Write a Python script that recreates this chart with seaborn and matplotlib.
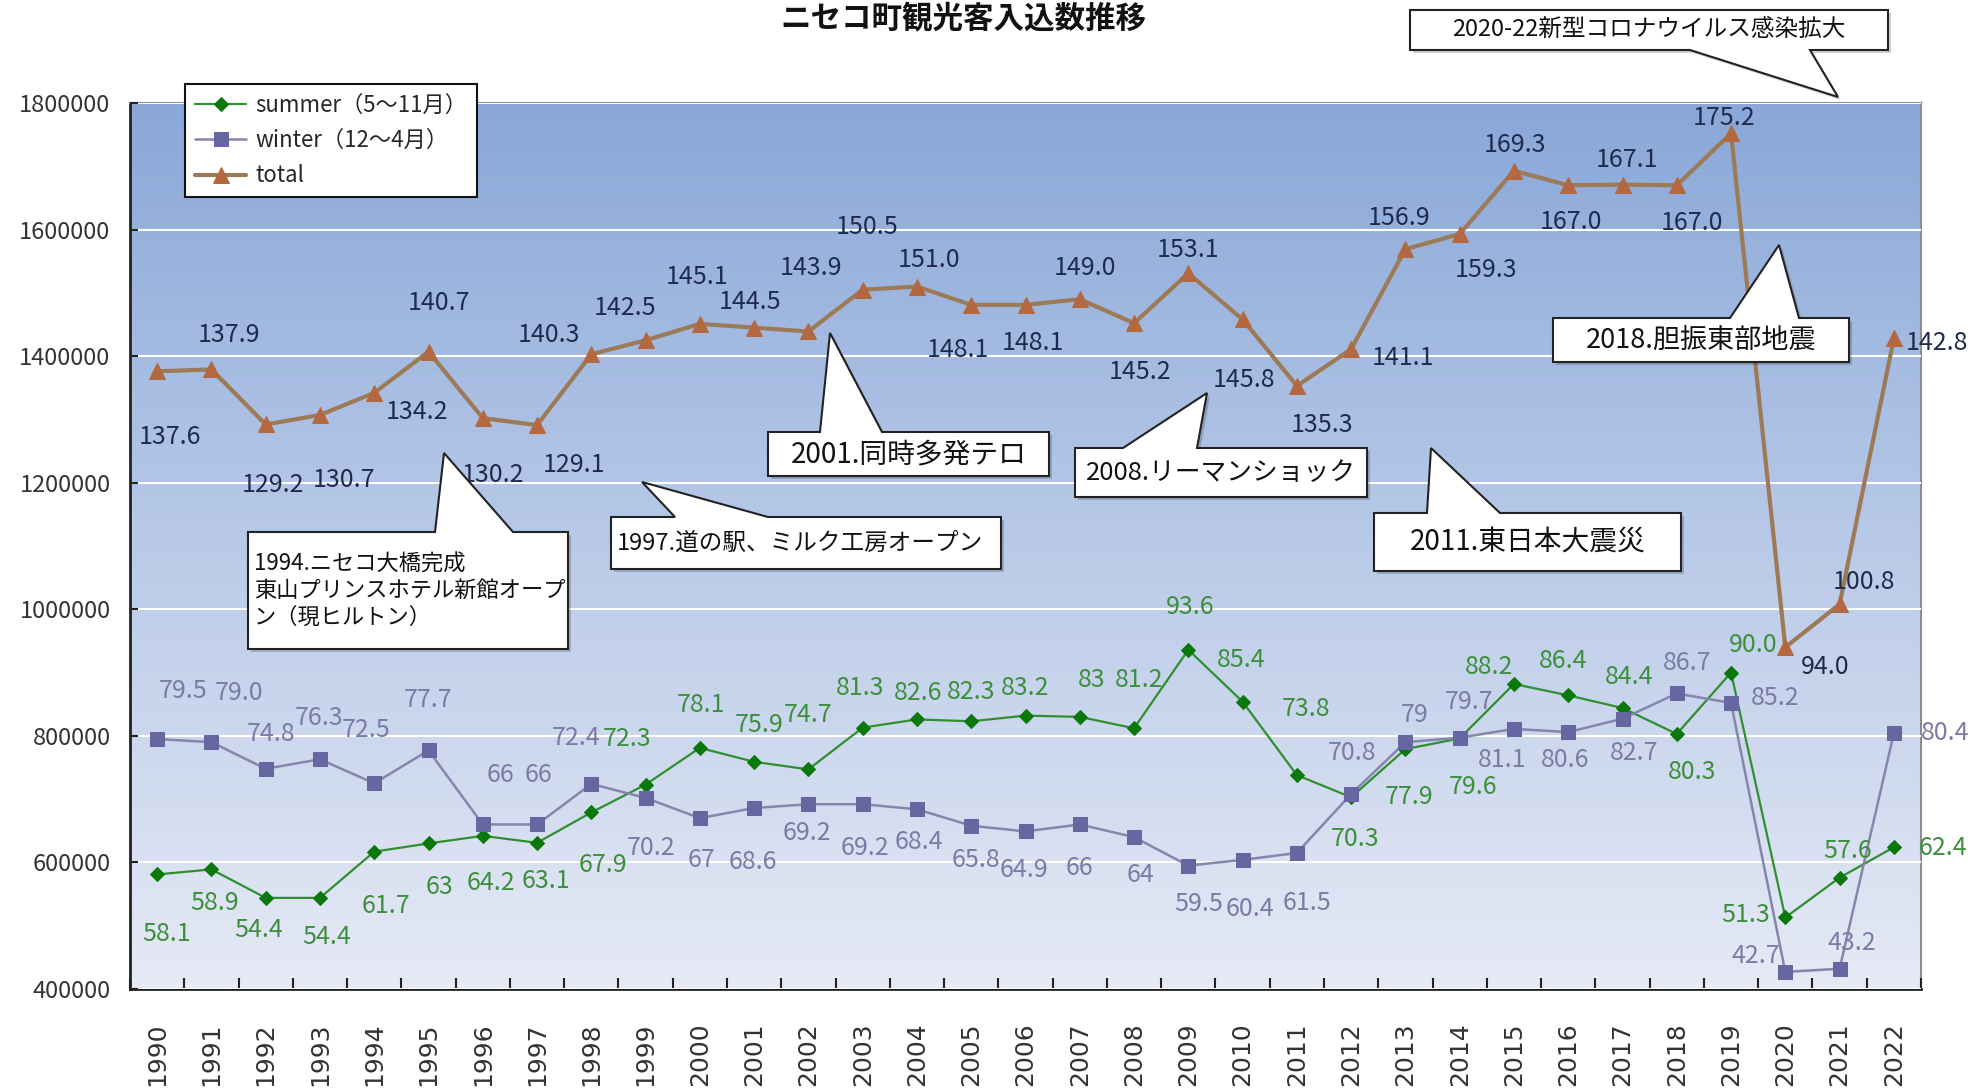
import numpy as np
import matplotlib
matplotlib.use("Agg")
import matplotlib.pyplot as plt
import matplotlib.transforms as mtransforms
from matplotlib.patches import Polygon
from matplotlib.colors import LinearSegmentedColormap
import seaborn as sns

years = list(range(1990, 2023))
summer = [581000, 589000, 544000, 544000, 617000, 630000, 642000, 631000, 679000, 723000,
          781000, 759000, 747000, 813000, 826000, 823000, 832000, 830000, 812000, 936000,
          854000, 738000, 703000, 779000, 796000, 882000, 864000, 844000, 803000, 900000,
          513000, 576000, 624000]
winter = [795000, 790000, 748000, 763000, 725000, 777000, 660000, 660000, 724000, 702000,
          670000, 686000, 692000, 692000, 684000, 658000, 649000, 660000, 640000, 595000,
          604000, 615000, 708000, 790000, 797000, 811000, 806000, 827000, 867000, 852000,
          427000, 432000, 804000]
total = [1376000, 1379000, 1292000, 1307000, 1342000, 1407000, 1302000, 1291000, 1403000, 1425000,
         1451000, 1445000, 1439000, 1505000, 1510000, 1481000, 1481000, 1490000, 1452000, 1531000,
         1458000, 1353000, 1411000, 1569000, 1593000, 1693000, 1670000, 1671000, 1670000, 1752000,
         940000, 1008000, 1428000]

summer_labels = ["58.1", "58.9", "54.4", "54.4", "61.7", "63", "64.2", "63.1", "67.9", "72.3",
                 "78.1", "75.9", "74.7", "81.3", "82.6", "82.3", "83.2", "83", "81.2", "93.6",
                 "85.4", "73.8", "70.3", "77.9", "79.6", "88.2", "86.4", "84.4", "80.3", "90.0",
                 "51.3", "57.6", "62.4"]
winter_labels = ["79.5", "79.0", "74.8", "76.3", "72.5", "77.7", "66", "66", "72.4", "70.2",
                 "67", "68.6", "69.2", "69.2", "68.4", "65.8", "64.9", "66", "64", "59.5",
                 "60.4", "61.5", "70.8", "79", "79.7", "81.1", "80.6", "82.7", "86.7", "85.2",
                 "42.7", "43.2", "80.4"]
total_labels = ["137.6", "137.9", "129.2", "130.7", "134.2", "140.7", "130.2", "129.1", "140.3", "142.5",
                "145.1", "144.5", "143.9", "150.5", "151.0", "148.1", "148.1", "149.0", "145.2", "153.1",
                "145.8", "135.3", "141.1", "156.9", "159.3", "169.3", "167.0", "167.1", "167.0", "175.2",
                "94.0", "100.8", "142.8"]

# label offsets in pixels (dx right, dy down)
summer_off = [(9, 60), (3, 34), (-7, 32), (7, 39), (12, 54), (11, 44), (8, 47), (9, 38), (12, 53), (-19, -46),
              (1, -43), (5, -37), (0, -54), (-3, -40), (1, -26), (0, -29), (0, -28), (12, -37), (5, -48), (2, -43),
              (-1, -42), (9, -66), (4, 42), (4, 48), (13, 49), (-25, -17), (-5, -34), (7, -31), (15, 38), (22, -28),
              (-40, -2), (8, -27), (49, 1)]
winter_off = [(26, -48), (28, -49), (5, -35), (-1, -41), (-8, -53), (0, -50), (18, -49), (1, -49), (-15, -46), (5, 50),
              (2, 42), (-1, 54), (-1, 29), (2, 44), (2, 33), (5, 34), (-2, 39), (0, 44), (6, 38), (10, 38),
              (7, 49), (10, 50), (1, -41), (9, -27), (9, -36), (-12, 31), (-3, 28), (12, 34), (10, -30), (44, -5),
              (-30, -16), (12, -26), (51, 0)]
total_off = [(13, 66), (18, -34), (7, 61), (24, 65), (43, 19), (11, -49), (10, 57), (37, 40), (-42, -19), (-21, -32),
             (-3, -47), (-4, -26), (3, -63), (4, -63), (12, -27), (-13, 45), (7, 38), (5, -31), (6, 49), (0, -23),
             (1, 61), (25, 39), (52, 9), (-6, -31), (26, 36), (1, -26), (3, 37), (5, -25), (15, 38), (-7, -15),
             (40, 20), (24, -22), (43, 5)]

# callouts: box (x0, y0, x1, y1) in figure pixels from top-left, pointer base x's and tip
callouts = [
    dict(text="1994.ニセコ大橋完成\n東山プリンスホテル新館オープ\nン（現ヒルトン）",
         box=(248, 532, 568, 649), base=(435, 513), tip=(444, 453), size=16, align="left"),
    dict(text="1997.道の駅、ミルク工房オープン",
         box=(611, 517, 1001, 569), base=(675, 768), tip=(642, 482), size=17, align="left"),
    dict(text="2001.同時多発テロ",
         box=(768, 432, 1049, 476), base=(820, 882), tip=(830, 333), size=20),
    dict(text="2008.リーマンショック",
         box=(1075, 448, 1367, 497), base=(1123, 1197), tip=(1207, 393), size=18.5),
    dict(text="2011.東日本大震災",
         box=(1374, 513, 1681, 571), base=(1427, 1500), tip=(1431, 448), size=20),
    dict(text="2018.胆振東部地震",
         box=(1553, 318, 1849, 362), base=(1730, 1799), tip=(1779, 245), size=19.5),
    dict(text="2020-22新型コロナウイルス感染拡大",
         box=(1410, 10, 1888, 50), base=(1690, 1810), tip=(1838, 97), size=17, side="bottom"),
]

sns.set_style("ticks")
plt.rcParams['font.family'] = ['Noto Sans CJK JP', 'DejaVu Sans']

W, H = 1975, 1092
fig, ax = plt.subplots(figsize=(W / 100, H / 100), dpi=100)
fig.subplots_adjust(left=130 / W, right=1921 / W, top=1 - 103 / H, bottom=1 - 989 / H)
pix = mtransforms.Affine2D().scale(1 / W, -1 / H).translate(0, 1) + fig.transFigure

# gradient background of the plot area
grad = LinearSegmentedColormap.from_list("bg", ["#e6eaf5", "#b9cae8", "#89a7d8"])
ax.imshow(np.linspace(0, 1, 256).reshape(-1, 1), cmap=grad, origin="lower", aspect="auto",
          extent=(years[0] - 0.5, years[-1] + 0.5, 400000, 1800000), zorder=0)

c_sum, c_sum_m, c_sum_t = "#2f8f2f", "#0a780a", "#3d8f3d"
c_win, c_win_m, c_win_t = "#8585ad", "#6666a0", "#7b7ba6"
c_tot, c_tot_m, c_tot_t = "#9c7a56", "#b3683f", "#1f2b4d"

sns.lineplot(x=years, y=summer, ax=ax, color=c_sum, linewidth=1.6, marker="D", markersize=7,
             markerfacecolor=c_sum_m, markeredgecolor=c_sum_m, label="summer（5～11月）", zorder=3)
sns.lineplot(x=years, y=winter, ax=ax, color=c_win, linewidth=1.8, marker="s", markersize=10,
             markerfacecolor=c_win_m, markeredgecolor=c_win_m, label="winter（12～4月）", zorder=3)
sns.lineplot(x=years, y=total, ax=ax, color=c_tot, linewidth=3, marker="^", markersize=11,
             markerfacecolor=c_tot_m, markeredgecolor=c_tot_m, label="total", zorder=3)

for vals, labs, offs, col in [(summer, summer_labels, summer_off, c_sum_t),
                              (winter, winter_labels, winter_off, c_win_t),
                              (total, total_labels, total_off, c_tot_t)]:
    for yr, v, t, (dx, dy) in zip(years, vals, labs, offs):
        ax.annotate(t, (yr, v), xytext=(dx, -dy), textcoords="offset pixels",
                    ha="center", va="center", fontsize=18, color=col, zorder=6,
                    annotation_clip=False)

ax.set_xlim(years[0] - 0.5, years[-1] + 0.5)
ax.set_ylim(400000, 1800000)
ax.set_yticks(np.arange(400000, 1800001, 200000))
ax.set_yticklabels([str(v) for v in range(400000, 1800001, 200000)])
ax.set_xticks(years)
ax.set_xticklabels([str(y) for y in years], rotation=90, family="DejaVu Sans", fontsize=18, color="#333333")
ax.set_xticks(np.arange(years[0] - 0.5, years[-1] + 0.6, 1), minor=True)
ax.tick_params(axis="x", which="major", length=0, pad=24)
ax.tick_params(axis="x", which="minor", direction="in", length=8, width=1.5, color="#222222")
ax.tick_params(axis="y", direction="in", length=6, width=1.5, pad=14, labelsize=17,
               labelcolor="#333333", color="#222222")
ax.grid(axis="y", color="white", linewidth=1.5, zorder=1)
ax.set_axisbelow(False)
ax.set_xlabel("")
ax.set_ylabel("")
for s in ["left", "bottom"]:
    ax.spines[s].set_color("#222222")
    ax.spines[s].set_linewidth(2)
for s in ["top", "right"]:
    ax.spines[s].set_color("#8c8c8c")
    ax.spines[s].set_linewidth(1.5)

leg = ax.legend(loc="upper left", bbox_to_anchor=(185 / W, 1 - 84 / H), bbox_transform=fig.transFigure,
                borderaxespad=0, frameon=True, fancybox=False, framealpha=1, edgecolor="#111111",
                fontsize=16, handlelength=2.3, handletextpad=0.4, labelspacing=0.55, borderpad=0.45)
leg.get_frame().set_linewidth(1.5)
leg.set_zorder(10)

# callout boxes with pointers
for c in callouts:
    x0, y0, x1, y1 = c["box"]
    b0, b1 = c["base"]
    tip = c["tip"]
    if c.get("side") == "bottom":
        pts = [(x0, y0), (x1, y0), (x1, y1), (b1, y1), tip, (b0, y1), (x0, y1)]
    else:
        pts = [(x0, y0), (b0, y0), tip, (b1, y0), (x1, y0), (x1, y1), (x0, y1)]
    shadow = Polygon([(x + 3, y + 3) for x, y in pts], closed=True, transform=pix,
                     facecolor="#000000", alpha=0.18, edgecolor="none", zorder=4)
    poly = Polygon(pts, closed=True, transform=pix, facecolor="white",
                   edgecolor="#222222", linewidth=1.5, zorder=5)
    fig.add_artist(shadow)
    fig.add_artist(poly)
    if c.get("align") == "left":
        fig.text(x0 + 6, (y0 + y1) / 2, c["text"], transform=pix, ha="left", va="center",
                 fontsize=c["size"], color="#111111", linespacing=1.2, zorder=6)
    else:
        fig.text((x0 + x1) / 2, (y0 + y1) / 2, c["text"], transform=pix, ha="center", va="center",
                 fontsize=c["size"], color="#111111", zorder=6)

fig.text(963, 19, "ニセコ町観光客入込数推移", transform=pix, ha="center", va="center",
         fontsize=22, fontweight="bold", color="#111111")

fig.savefig("out.png", dpi=100, facecolor="white")
